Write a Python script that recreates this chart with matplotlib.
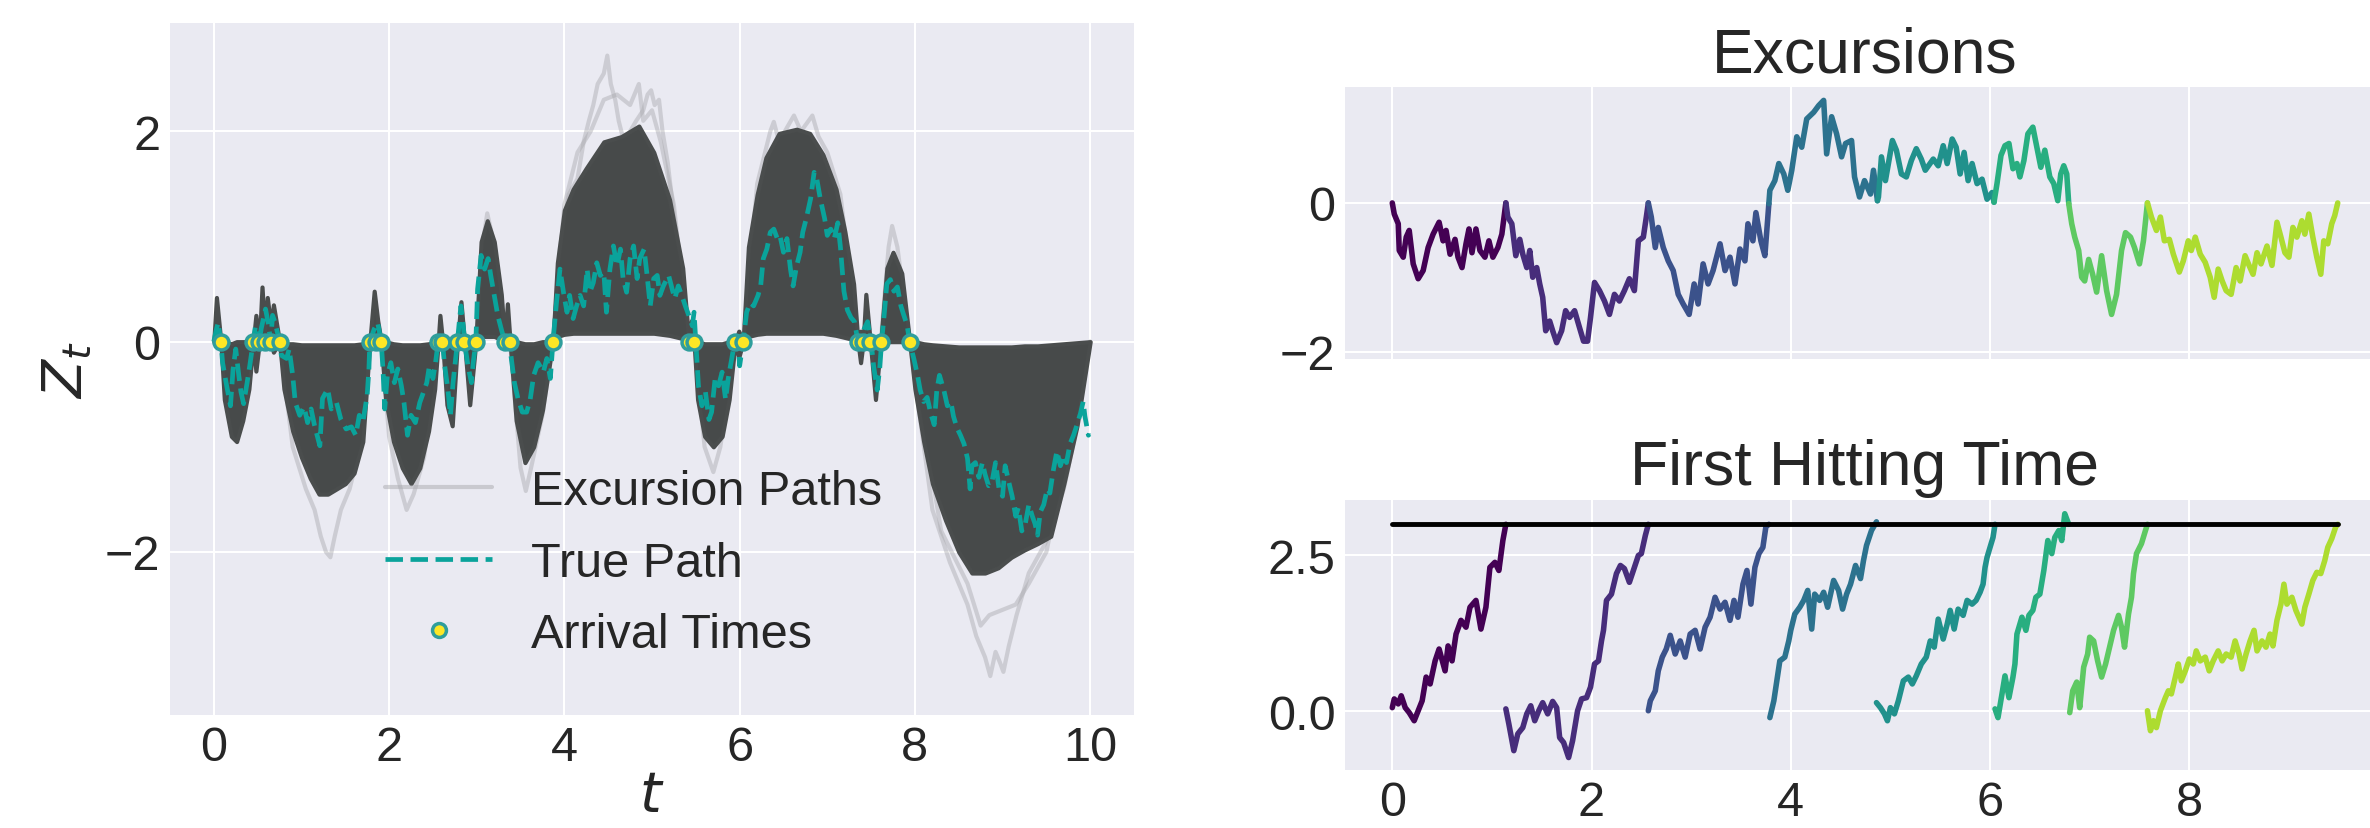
import numpy as np
import matplotlib
matplotlib.use("Agg")
import matplotlib.pyplot as plt
from matplotlib.lines import Line2D

# ---- left panel: true path, arrival times, excursion band ----
true_t = [0.00, 0.03, 0.05, 0.08, 0.10, 0.14, 0.19, 0.22, 0.25, 0.285, 0.31, 0.34, 0.38, 0.41,
          0.45, 0.475, 0.50, 0.52, 0.54, 0.59, 0.62, 0.65, 0.67, 0.70, 0.75, 0.77, 0.83, 0.86,
          0.90, 0.93, 0.98, 1.03, 1.07, 1.11, 1.15, 1.21, 1.24, 1.30, 1.34, 1.40, 1.45, 1.51,
          1.57, 1.62, 1.66, 1.70, 1.75, 1.77, 1.78, 1.83, 1.87, 1.91, 1.93, 1.95, 1.98, 2.02,
          2.06, 2.10, 2.14, 2.17, 2.21, 2.25, 2.30, 2.35, 2.38, 2.43, 2.46, 2.50, 2.53, 2.56,
          2.61, 2.63, 2.67, 2.70, 2.73, 2.78, 2.80, 2.82, 2.85, 2.86, 2.90, 2.94, 2.96, 2.99,
          3.01, 3.05, 3.09, 3.13, 3.16, 3.20, 3.24, 3.28, 3.32, 3.35, 3.38, 3.39, 3.43, 3.47,
          3.52, 3.57, 3.61, 3.65, 3.70, 3.76, 3.80, 3.84, 3.87, 3.91, 3.95, 3.99, 4.03, 4.06,
          4.10, 4.14, 4.18, 4.22, 4.26, 4.29, 4.33, 4.37, 4.41, 4.45, 4.48, 4.52, 4.56, 4.60,
          4.64, 4.67, 4.71, 4.75, 4.79, 4.83, 4.86, 4.91, 4.94, 4.98, 5.02, 5.06, 5.09, 5.13,
          5.19, 5.23, 5.26, 5.30, 5.34, 5.38, 5.42, 5.46, 5.48, 5.50, 5.53, 5.57, 5.61, 5.65,
          5.68, 5.72, 5.76, 5.80, 5.84, 5.87, 5.91, 5.95, 5.98, 6.00, 6.04, 6.08, 6.12, 6.16,
          6.21, 6.24, 6.27, 6.31, 6.35, 6.39, 6.43, 6.46, 6.50, 6.54, 6.58, 6.61, 6.65, 6.69,
          6.72, 6.76, 6.81, 6.85, 6.88, 6.92, 6.97, 7.00, 7.04, 7.08, 7.12, 7.15, 7.19, 7.23,
          7.27, 7.31, 7.34, 7.38, 7.42, 7.46, 7.50, 7.53, 7.57, 7.60, 7.62, 7.65, 7.68, 7.72,
          7.76, 7.80, 7.84, 7.87, 7.91, 7.94, 7.99, 8.03, 8.06, 8.10, 8.14, 8.18, 8.22, 8.25,
          8.28, 8.33, 8.37, 8.41, 8.44, 8.48, 8.52, 8.56, 8.60, 8.63, 8.65, 8.69, 8.73, 8.77,
          8.80, 8.84, 8.88, 8.92, 8.96, 9.00, 9.03, 9.07, 9.11, 9.15, 9.18, 9.22, 9.26, 9.30,
          9.34, 9.37, 9.40, 9.43, 9.47, 9.51, 9.54, 9.58, 9.62, 9.66, 9.70, 9.73, 9.77, 9.81,
          9.85, 9.89, 9.92, 9.94, 9.98, 9.99]
true_z = [0.00, 0.12, 0.18, 0.00, -0.20, -0.39, -0.61, -0.26, -0.07, -0.32, -0.48, -0.59, -0.39, -0.23,
          0.00, 0.15, -0.04, 0.00, 0.12, 0.31, 0.18, 0.00, 0.25, 0.18, 0.00, -0.13, -0.16, -0.07,
          -0.32, -0.58, -0.70, -0.62, -0.77, -0.64, -0.80, -0.99, -0.54, -0.45, -0.64, -0.58, -0.74, -0.83,
          -0.81, -0.89, -0.70, -0.77, -0.51, -0.26, 0.00, 0.12, 0.18, 0.00, -0.26, -0.64, -0.32, -0.20,
          -0.39, -0.26, -0.42, -0.58, -0.89, -0.70, -0.77, -0.58, -0.51, -0.39, -0.23, -0.35, -0.20, 0.00,
          0.00, -0.20, -0.45, -0.70, -0.39, 0.00, 0.18, 0.34, 0.12, 0.00, -0.23, -0.39, -0.20, 0.00,
          0.50, 0.82, 0.69, 0.79, 0.63, 0.44, 0.25, 0.12, 0.00, 0.05, 0.00, -0.13, -0.39, -0.54,
          -0.67, -0.67, -0.55, -0.32, -0.20, -0.29, -0.16, -0.35, 0.00, 0.37, 0.69, 0.47, 0.28, 0.44,
          0.22, 0.34, 0.44, 0.34, 0.69, 0.47, 0.56, 0.75, 0.63, 0.66, 0.28, 0.69, 0.91, 0.72,
          0.88, 0.60, 0.47, 0.79, 0.91, 0.60, 0.79, 0.88, 0.66, 0.34, 0.60, 0.63, 0.44, 0.53,
          0.63, 0.50, 0.41, 0.53, 0.44, 0.34, 0.25, 0.15, 0.28, 0.00, -0.42, -0.61, -0.48, -0.74,
          -0.67, -0.35, -0.42, -0.29, -0.55, -0.35, -0.16, 0.03, 0.00, -0.23, 0.00, 0.28, 0.37, 0.34,
          0.44, 0.53, 0.79, 0.88, 1.04, 1.07, 0.98, 1.01, 0.85, 0.98, 0.69, 0.53, 0.72, 0.85,
          1.04, 1.17, 1.36, 1.61, 1.55, 1.36, 1.17, 1.01, 1.07, 0.98, 1.13, 0.90, 0.48, 0.30,
          0.23, 0.19, 0.05, 0.00, 0.12, 0.19, 0.00, -0.24, -0.46, -0.24, 0.00, 0.26, 0.55, 0.59,
          0.48, 0.52, 0.34, 0.26, 0.16, 0.00, -0.17, -0.32, -0.46, -0.57, -0.53, -0.68, -0.79, -0.46,
          -0.32, -0.46, -0.61, -0.57, -0.71, -0.82, -0.89, -0.97, -1.11, -1.40, -1.18, -1.15, -1.29, -1.15,
          -1.26, -1.37, -1.33, -1.15, -1.40, -1.47, -1.18, -1.33, -1.47, -1.66, -1.58, -1.80, -1.73, -1.55,
          -1.66, -1.73, -1.84, -1.62, -1.55, -1.40, -1.44, -1.22, -1.04, -1.18, -1.08, -1.15, -0.97, -0.89,
          -0.79, -0.68, -0.57, -0.71, -0.89, -0.88]

arrival_t = [0.08, 0.45, 0.52, 0.58, 0.65, 0.75, 1.78, 1.85, 1.91, 2.56, 2.60, 2.78, 2.86, 2.99,
             3.32, 3.38, 3.87, 5.42, 5.48, 5.95, 6.04, 7.35, 7.41, 7.49, 7.61, 7.94]
arrival_z = [0.0] * len(arrival_t)

# dense core of the simulated excursion paths (lower / upper edge)
band_t = [0.00, 0.03, 0.08, 0.12, 0.20, 0.26, 0.33, 0.40, 0.45, 0.48, 0.52, 0.55, 0.58, 0.61,
          0.65, 0.68, 0.75, 0.80, 0.90, 1.00, 1.10, 1.20, 1.30, 1.40, 1.50, 1.60, 1.70, 1.78,
          1.83, 1.87, 1.91, 1.96, 2.05, 2.15, 2.25, 2.35, 2.45, 2.52, 2.56, 2.58, 2.61, 2.66,
          2.72, 2.78, 2.82, 2.86, 2.92, 2.99, 3.05, 3.12, 3.20, 3.28, 3.32, 3.35, 3.38, 3.45,
          3.55, 3.65, 3.75, 3.87, 3.92, 4.00, 4.10, 4.25, 4.45, 4.65, 4.85, 5.02, 5.20, 5.35,
          5.42, 5.45, 5.48, 5.52, 5.60, 5.70, 5.80, 5.88, 5.95, 5.99, 6.04, 6.10, 6.20, 6.30,
          6.45, 6.65, 6.80, 6.95, 7.10, 7.20, 7.30, 7.35, 7.38, 7.41, 7.44, 7.49, 7.55, 7.61,
          7.68, 7.75, 7.85, 7.94, 8.00, 8.10, 8.20, 8.35, 8.50, 8.65, 8.80, 8.95, 9.10, 9.25,
          9.40, 9.55, 9.70, 9.85, 10.0]
band_lo = [0.00, 0.00, 0.00, -0.55, -0.90, -0.95, -0.75, -0.45, 0.00, -0.28, 0.00, 0.00, 0.00, 0.00,
           0.00, -0.10, 0.00, -0.45, -0.85, -1.10, -1.30, -1.45, -1.45, -1.40, -1.35, -1.25, -0.95, 0.00,
           0.00, 0.00, 0.00, -0.55, -0.95, -1.20, -1.35, -1.20, -0.85, -0.45, 0.00, 0.00, 0.00, -0.60,
           -0.80, 0.00, 0.00, 0.00, -0.60, 0.00, 0.05, 0.05, 0.05, 0.02, 0.00, 0.00, 0.00, -0.75,
           -1.15, -1.00, -0.65, 0.00, 0.05, 0.07, 0.08, 0.08, 0.08, 0.08, 0.08, 0.08, 0.06, 0.03,
           0.00, 0.00, 0.00, -0.55, -0.90, -1.00, -0.90, -0.55, 0.00, -0.15, 0.00, 0.05, 0.07, 0.08,
           0.08, 0.08, 0.08, 0.08, 0.06, 0.04, 0.02, 0.00, -0.20, 0.00, 0.00, 0.00, -0.55, 0.00,
           0.00, 0.00, 0.00, 0.00, -0.45, -0.95, -1.35, -1.70, -2.00, -2.20, -2.20, -2.15, -2.05, -1.98,
           -1.92, -1.85, -1.35, -0.80, 0.00]
band_hi = [0.00, 0.42, 0.00, 0.00, -0.02, 0.00, 0.00, 0.00, 0.00, 0.25, 0.00, 0.52, 0.10, 0.42,
           0.15, 0.35, 0.00, -0.02, -0.02, -0.03, -0.03, -0.03, -0.03, -0.03, -0.03, -0.03, -0.02, 0.00,
           0.48, 0.20, 0.00, 0.00, -0.02, -0.03, -0.03, -0.03, -0.02, 0.00, 0.00, 0.25, 0.00, 0.00,
           0.00, 0.00, 0.38, 0.00, 0.00, 0.00, 0.95, 1.15, 0.95, 0.45, 0.00, 0.36, 0.00, 0.00,
           -0.02, -0.02, 0.00, 0.00, 0.75, 1.25, 1.45, 1.65, 1.90, 1.95, 2.05, 1.80, 1.35, 0.70,
           0.00, 0.20, 0.00, 0.00, -0.02, -0.02, -0.02, 0.00, 0.00, 0.10, 0.00, 0.90, 1.40, 1.75,
           1.98, 2.02, 1.98, 1.78, 1.45, 1.05, 0.55, 0.00, 0.10, 0.00, 0.45, 0.00, 0.00, 0.00,
           0.70, 0.85, 0.65, 0.00, 0.00, -0.02, -0.03, -0.04, -0.05, -0.05, -0.05, -0.05, -0.05, -0.04,
           -0.04, -0.03, -0.02, -0.01, 0.00]

# a few faint outlying excursion paths
faint_a_t = [3.87, 3.95, 4.05, 4.15, 4.22, 4.28, 4.33, 4.38, 4.45, 4.49, 4.53, 4.58, 4.62, 4.68,
             4.75, 4.82, 4.90, 4.95, 4.99, 5.03, 5.08, 5.12, 5.18, 5.25, 5.35, 5.42]
faint_a_z = [0.00, 0.90, 1.40, 1.55, 1.90, 2.10, 2.25, 2.45, 2.55, 2.72, 2.45, 2.30, 2.10, 1.90,
             2.00, 2.10, 2.20, 2.35, 2.39, 2.25, 2.30, 2.00, 1.70, 1.20, 0.60, 0.00]
faint_b_t = [3.87, 4.00, 4.15, 4.30, 4.45, 4.60, 4.75, 4.85, 4.90, 5.00, 5.10, 5.25, 5.42]
faint_b_z = [0.00, 1.30, 1.80, 2.00, 2.30, 2.35, 2.25, 2.45, 2.10, 2.20, 1.90, 1.30, 0.00]
faint_c_t = [6.04, 6.20, 6.35, 6.39, 6.45, 6.55, 6.62, 6.70, 6.83, 6.90, 7.00, 7.15, 7.35]
faint_c_z = [0.00, 1.50, 2.00, 2.09, 1.90, 2.05, 2.15, 2.00, 2.15, 1.95, 1.80, 1.40, 0.00]
faint_d_t = [0.75, 0.90, 1.05, 1.15, 1.22, 1.28, 1.33, 1.38, 1.45, 1.55, 1.70, 1.78]
faint_d_z = [0.00, -1.00, -1.40, -1.60, -1.85, -2.00, -2.05, -1.85, -1.60, -1.40, -0.90, 0.00]
faint_e_t = [1.91, 2.00, 2.10, 2.20, 2.28, 2.40, 2.56]
faint_e_z = [0.00, -0.90, -1.30, -1.60, -1.45, -1.10, 0.00]
faint_f_t = [3.38, 3.50, 3.56, 3.62, 3.75, 3.87]
faint_f_z = [0.00, -1.20, -1.42, -1.20, -0.70, 0.00]
faint_g_t = [5.48, 5.60, 5.70, 5.78, 5.95]
faint_g_z = [0.00, -1.00, -1.24, -1.00, 0.00]
faint_h_t = [7.94, 8.20, 8.40, 8.60, 8.70, 8.80, 8.86, 8.92, 8.97, 9.01, 9.07, 9.16, 9.30, 9.50,
             9.70, 9.85, 10.0]
faint_h_z = [0.00, -1.60, -2.10, -2.50, -2.80, -3.00, -3.18, -2.95, -3.05, -3.14, -2.90, -2.60, -2.20, -1.90,
             -1.40, -0.80, 0.00]
faint_i_t = [7.94, 8.30, 8.60, 8.75, 8.85, 9.00, 9.15, 9.30, 9.50, 10.0]
faint_i_z = [0.00, -1.80, -2.30, -2.70, -2.60, -2.55, -2.50, -2.30, -2.00, 0.00]
faint_j_t = [2.99, 3.08, 3.12, 3.18, 3.25, 3.32]
faint_j_z = [0.00, 1.00, 1.22, 1.00, 0.60, 0.00]
faint_k_t = [7.61, 7.70, 7.74, 7.80, 7.94]
faint_k_z = [0.00, 0.90, 1.10, 0.90, 0.00]
faint_paths = [(faint_a_t, faint_a_z), (faint_b_t, faint_b_z), (faint_c_t, faint_c_z),
               (faint_d_t, faint_d_z), (faint_e_t, faint_e_z), (faint_f_t, faint_f_z),
               (faint_g_t, faint_g_z), (faint_h_t, faint_h_z), (faint_i_t, faint_i_z),
               (faint_j_t, faint_j_z), (faint_k_t, faint_k_z)]

# ---- top right: one path, coloured by excursion ----
split_t = [0.00, 1.14, 2.57, 3.78, 4.87, 6.04, 6.79, 7.58, 9.49]
exc_t = [0.00, 0.02, 0.06, 0.07, 0.11, 0.14, 0.17, 0.21, 0.26, 0.31, 0.36, 0.41, 0.47, 0.51,
         0.54, 0.58, 0.63, 0.66, 0.70, 0.74, 0.77, 0.80, 0.84, 0.88, 0.93, 0.97, 1.01, 1.06,
         1.10, 1.14, 1.16, 1.20, 1.24, 1.28, 1.31, 1.35, 1.38, 1.41, 1.45, 1.48, 1.51, 1.54,
         1.58, 1.61, 1.65, 1.70, 1.74, 1.78, 1.83, 1.88, 1.92, 1.96, 1.99, 2.03, 2.08, 2.13,
         2.18, 2.23, 2.28, 2.33, 2.38, 2.43, 2.47, 2.52, 2.55, 2.57, 2.60, 2.64, 2.67, 2.72,
         2.77, 2.82, 2.87, 2.92, 2.98, 3.03, 3.07, 3.12, 3.17, 3.22, 3.29, 3.34, 3.39, 3.44,
         3.49, 3.54, 3.57, 3.62, 3.65, 3.70, 3.74, 3.78, 3.79, 3.84, 3.88, 3.93, 3.97, 4.01,
         4.06, 4.11, 4.16, 4.23, 4.28, 4.33, 4.36, 4.41, 4.46, 4.51, 4.55, 4.61, 4.64, 4.69,
         4.74, 4.80, 4.83, 4.87, 4.88, 4.91, 4.95, 4.98, 5.02, 5.06, 5.11, 5.16, 5.21, 5.26,
         5.31, 5.35, 5.43, 5.48, 5.53, 5.57, 5.62, 5.66, 5.70, 5.74, 5.78, 5.82, 5.87, 5.92,
         5.97, 6.02, 6.04, 6.07, 6.11, 6.15, 6.19, 6.23, 6.27, 6.30, 6.34, 6.38, 6.43, 6.47,
         6.51, 6.55, 6.60, 6.64, 6.68, 6.71, 6.74, 6.77, 6.79, 6.82, 6.85, 6.89, 6.92, 6.95,
         6.99, 7.03, 7.07, 7.12, 7.17, 7.22, 7.27, 7.32, 7.36, 7.41, 7.45, 7.50, 7.54, 7.58,
         7.62, 7.67, 7.71, 7.75, 7.80, 7.84, 7.90, 7.94, 7.99, 8.02, 8.06, 8.11, 8.16, 8.21,
         8.25, 8.29, 8.33, 8.37, 8.42, 8.47, 8.51, 8.56, 8.60, 8.64, 8.68, 8.72, 8.78, 8.83,
         8.88, 8.92, 8.96, 9.00, 9.04, 9.08, 9.13, 9.16, 9.20, 9.24, 9.28, 9.32, 9.35, 9.39,
         9.43, 9.46, 9.49]
exc_z = [0.00, -0.15, -0.28, -0.64, -0.73, -0.46, -0.37, -0.82, -1.02, -0.91, -0.60, -0.42, -0.26, -0.51,
         -0.37, -0.69, -0.49, -0.73, -0.87, -0.55, -0.35, -0.67, -0.35, -0.64, -0.73, -0.51, -0.73, -0.60,
         -0.42, 0.00, -0.19, -0.28, -0.71, -0.49, -0.69, -0.87, -0.64, -1.00, -0.87, -1.09, -1.27, -1.72,
         -1.59, -1.72, -1.88, -1.72, -1.45, -1.54, -1.45, -1.68, -1.86, -1.86, -1.54, -1.07, -1.18, -1.32,
         -1.50, -1.23, -1.32, -1.18, -1.02, -1.18, -0.51, -0.46, -0.19, 0.00, -0.19, -0.60, -0.33, -0.60,
         -0.78, -0.91, -1.23, -1.36, -1.50, -1.09, -1.36, -0.82, -1.09, -0.91, -0.55, -0.91, -0.73, -1.09,
         -0.62, -0.78, -0.28, -0.51, -0.13, -0.51, -0.71, -0.01, 0.17, 0.30, 0.53, 0.39, 0.17, 0.44,
         0.89, 0.75, 1.13, 1.22, 1.31, 1.38, 0.66, 1.16, 0.93, 0.62, 0.80, 0.84, 0.35, 0.08,
         0.30, 0.12, 0.44, 0.03, 0.08, 0.62, 0.30, 0.53, 0.84, 0.71, 0.39, 0.35, 0.57, 0.73,
         0.59, 0.44, 0.59, 0.50, 0.77, 0.53, 0.86, 0.75, 0.39, 0.68, 0.30, 0.53, 0.26, 0.32,
         0.05, 0.14, 0.01, 0.26, 0.64, 0.77, 0.80, 0.46, 0.53, 0.35, 0.57, 0.93, 1.02, 0.75,
         0.48, 0.71, 0.35, 0.26, 0.03, 0.39, 0.50, 0.39, -0.01, -0.28, -0.46, -0.64, -1.00, -1.05,
         -0.76, -0.96, -1.20, -0.71, -1.18, -1.50, -1.23, -0.64, -0.40, -0.46, -0.60, -0.82, -0.51, 0.00,
         -0.19, -0.37, -0.19, -0.51, -0.49, -0.69, -0.93, -0.78, -0.51, -0.64, -0.46, -0.69, -0.80, -1.00,
         -1.27, -0.89, -1.05, -1.18, -1.23, -0.87, -1.05, -0.71, -0.84, -0.96, -0.67, -0.82, -0.58, -0.84,
         -0.26, -0.46, -0.67, -0.73, -0.33, -0.46, -0.24, -0.42, -0.15, -0.46, -0.73, -0.96, -0.51, -0.55,
         -0.28, -0.17, 0.00]

# ---- bottom right: first hitting time paths ----
level = 3.0
hit_1 = ([0.00, 0.02, 0.06, 0.09, 0.13, 0.17, 0.22, 0.26, 0.30, 0.34, 0.38, 0.43, 0.47, 0.53, 0.56,
          0.60, 0.64, 0.69, 0.74, 0.78, 0.84, 0.89, 0.94, 0.98, 1.03, 1.07, 1.11, 1.14],
         [0.06, 0.20, 0.12, 0.25, 0.06, -0.02, -0.15, 0.01, 0.17, 0.55, 0.44, 0.81, 1.00, 0.65, 1.05,
          0.81, 1.24, 1.46, 1.35, 1.67, 1.78, 1.32, 1.67, 2.31, 2.39, 2.26, 2.74, 3.00])
hit_2 = ([1.14, 1.17, 1.22, 1.26, 1.31, 1.35, 1.39, 1.43, 1.47, 1.51, 1.56, 1.61, 1.65, 1.68, 1.72,
          1.77, 1.81, 1.86, 1.90, 1.95, 1.99, 2.03, 2.07, 2.10, 2.12, 2.15, 2.20, 2.25, 2.29, 2.33,
          2.38, 2.42, 2.47, 2.50, 2.54, 2.57],
         [0.04, -0.20, -0.63, -0.36, -0.26, -0.04, 0.09, -0.15, 0.01, 0.14, -0.04, 0.16, 0.06, -0.42, -0.50,
          -0.74, -0.47, 0.01, 0.20, 0.22, 0.39, 0.76, 0.81, 1.13, 1.30, 1.78, 1.88, 2.21, 2.34, 2.29,
          2.07, 2.26, 2.50, 2.53, 2.82, 3.00])
hit_3 = ([2.57, 2.59, 2.64, 2.67, 2.71, 2.75, 2.79, 2.84, 2.89, 2.94, 2.99, 3.04, 3.09, 3.14, 3.19,
          3.24, 3.29, 3.34, 3.39, 3.43, 3.47, 3.52, 3.56, 3.60, 3.64, 3.68, 3.72, 3.75, 3.78],
         [0.01, 0.17, 0.33, 0.65, 0.87, 1.00, 1.22, 0.92, 1.13, 0.87, 1.24, 1.30, 1.00, 1.35, 1.51,
          1.83, 1.64, 1.75, 1.46, 1.78, 1.51, 2.04, 2.26, 1.72, 2.31, 2.53, 2.63, 2.96, 3.00])
hit_4 = ([3.79, 3.83, 3.86, 3.89, 3.94, 3.98, 4.00, 4.04, 4.09, 4.13, 4.17, 4.21, 4.24, 4.29, 4.33,
          4.37, 4.43, 4.48, 4.52, 4.56, 4.60, 4.65, 4.70, 4.73, 4.76, 4.81, 4.86],
         [-0.10, 0.17, 0.49, 0.81, 0.87, 1.13, 1.30, 1.56, 1.67, 1.78, 1.94, 1.32, 1.88, 1.78, 1.91,
          1.67, 2.10, 1.94, 1.64, 1.88, 2.04, 2.34, 2.13, 2.42, 2.66, 2.90, 3.04])
hit_5 = ([4.86, 4.90, 4.94, 4.97, 5.00, 5.04, 5.08, 5.13, 5.18, 5.22, 5.26, 5.31, 5.36, 5.40, 5.44,
          5.48, 5.53, 5.57, 5.60, 5.64, 5.68, 5.73, 5.77, 5.82, 5.86, 5.90, 5.93, 5.95, 5.97, 6.00,
          6.03, 6.05],
         [0.14, 0.06, -0.04, -0.15, 0.06, -0.04, 0.17, 0.49, 0.55, 0.44, 0.57, 0.76, 0.87, 1.13, 1.03,
          1.48, 1.16, 1.40, 1.62, 1.32, 1.64, 1.54, 1.78, 1.72, 1.78, 1.91, 2.04, 2.31, 2.47, 2.63,
          2.79, 3.00])
hit_6 = ([6.05, 6.08, 6.12, 6.15, 6.19, 6.23, 6.25, 6.27, 6.32, 6.36, 6.39, 6.43, 6.46, 6.50, 6.54,
          6.58, 6.62, 6.65, 6.69, 6.72, 6.75, 6.79],
         [0.04, -0.10, 0.28, 0.57, 0.22, 0.55, 0.76, 1.24, 1.51, 1.30, 1.54, 1.62, 1.83, 1.88, 2.26,
          2.74, 2.53, 2.79, 2.90, 2.74, 3.17, 3.00])
hit_7 = ([6.80, 6.83, 6.87, 6.90, 6.94, 6.98, 7.00, 7.04, 7.08, 7.12, 7.16, 7.20, 7.24, 7.29, 7.32,
          7.35, 7.39, 7.42, 7.44, 7.47, 7.52, 7.56, 7.58],
         [-0.02, 0.33, 0.47, 0.06, 0.71, 0.92, 1.19, 1.13, 0.81, 0.55, 0.76, 1.03, 1.30, 1.54, 1.35,
          1.03, 1.56, 1.83, 2.21, 2.53, 2.69, 2.90, 3.00])
hit_8 = ([7.58, 7.61, 7.64, 7.67, 7.71, 7.76, 7.79, 7.82, 7.86, 7.89, 7.92, 7.96, 8.00, 8.04, 8.07,
          8.11, 8.16, 8.20, 8.24, 8.29, 8.33, 8.37, 8.42, 8.46, 8.50, 8.53, 8.57, 8.61, 8.65, 8.68,
          8.73, 8.77, 8.81, 8.84, 8.88, 8.92, 8.95, 8.98, 9.03, 9.07, 9.13, 9.16, 9.20, 9.24, 9.28,
          9.32, 9.36, 9.39, 9.43, 9.47, 9.49],
         [0.01, -0.31, -0.15, -0.26, 0.01, 0.22, 0.33, 0.28, 0.55, 0.76, 0.49, 0.65, 0.84, 0.76, 0.97,
          0.81, 0.87, 0.65, 0.81, 0.97, 0.81, 0.92, 0.87, 1.13, 0.92, 0.68, 0.92, 1.13, 1.30, 0.97,
          1.13, 1.03, 1.24, 1.05, 1.46, 1.72, 2.04, 1.72, 1.83, 1.62, 1.40, 1.67, 1.88, 2.10, 2.23,
          2.21, 2.42, 2.63, 2.77, 2.96, 3.00])
hit_paths = [hit_1, hit_2, hit_3, hit_4, hit_5, hit_6, hit_7, hit_8]

# ---- drawing ----
plt.style.use("seaborn-v0_8-darkgrid")
plt.rcParams["font.family"] = ["Liberation Sans", "DejaVu Sans"]
plt.rcParams["grid.linewidth"] = 1.5
plt.rcParams["axes.unicode_minus"] = True

W, H = 2370, 829
fig = plt.figure(figsize=(W / 100, H / 100), dpi=100)
ax0 = fig.add_axes([170 / W, (H - 716) / H, (1134 - 170) / W, (716 - 24) / H])
ax1 = fig.add_axes([1345 / W, (H - 360) / H, (2385 - 1345) / W, (360 - 88) / H])
ax2 = fig.add_axes([1345 / W, (H - 771) / H, (2385 - 1345) / W, (771 - 501) / H])

teal = "#0aa39b"
for ft, fz in faint_paths:
    ax0.plot(ft, fz, color="#a9a9ae", alpha=0.45, lw=3, zorder=1)
ax0.fill_between(band_t, band_lo, band_hi, color="#474a4a", lw=3, edgecolor="#4a4d4d", zorder=2)
ax0.plot(true_t, true_z, color=teal, lw=3.4, ls="--", zorder=3)
ax0.scatter(arrival_t, arrival_z, s=115, color="#fde725", edgecolors="#2f9e9c", linewidths=2.5, zorder=4)

ax0.set_xlim(-0.5, 10.5)
ax0.set_ylim(-3.55, 3.03)
ax0.set_xticks([0, 2, 4, 6, 8, 10])
ax0.set_yticks([-2, 0, 2])
ax0.tick_params(labelsize=35, pad=7)
ax0.set_xlabel("$t$", fontsize=40, labelpad=0)
ax0.set_ylabel("$Z_t$", fontsize=40, labelpad=8)

handles = [Line2D([], [], color="#a9a9ae", alpha=0.5, lw=3),
           Line2D([], [], color=teal, lw=3.4, ls="--"),
           Line2D([], [], ls="none", marker="o", markersize=10, markerfacecolor="#fde725",
                  markeredgecolor="#2f9e9c", markeredgewidth=2.5)]
ax0.legend(handles, ["Excursion Paths", "True Path", "Arrival Times"], loc="lower center",
           fontsize=35, frameon=False, handlelength=2.2, labelspacing=0.55,
           bbox_to_anchor=(0.481, 0.02))

colors = plt.cm.viridis(np.arange(8) / 8)
exc_t_arr = np.array(exc_t)
exc_z_arr = np.array(exc_z)
for i in range(8):
    m = (exc_t_arr >= split_t[i]) & (exc_t_arr <= split_t[i + 1])
    ax1.plot(exc_t_arr[m], exc_z_arr[m], color=colors[i], lw=4)
ax1.set_xlim(-0.4745, 9.9645)
ax1.set_ylim(-2.10, 1.56)
ax1.set_xticks([0, 2, 4, 6, 8])
ax1.set_yticks([-2, 0])
ax1.tick_params(labelsize=35, pad=7, labelbottom=False)
ax1.set_title("Excursions", fontsize=45, pad=11.5)

for i, (ht, hz) in enumerate(hit_paths):
    ax2.plot(ht, hz, color=colors[i], lw=4)
ax2.plot([split_t[0], split_t[-1]], [level, level], color="black", lw=3.5)
ax2.set_xlim(-0.4745, 9.9645)
ax2.set_ylim(-0.94, 3.39)
ax2.set_xticks([0, 2, 4, 6, 8])
ax2.set_yticks([0.0, 2.5])
ax2.set_yticklabels(["0.0", "2.5"])
ax2.tick_params(labelsize=35, pad=7)
ax2.set_title("First Hitting Time", fontsize=45, pad=11.5)

fig.savefig("out.png", dpi=100)
